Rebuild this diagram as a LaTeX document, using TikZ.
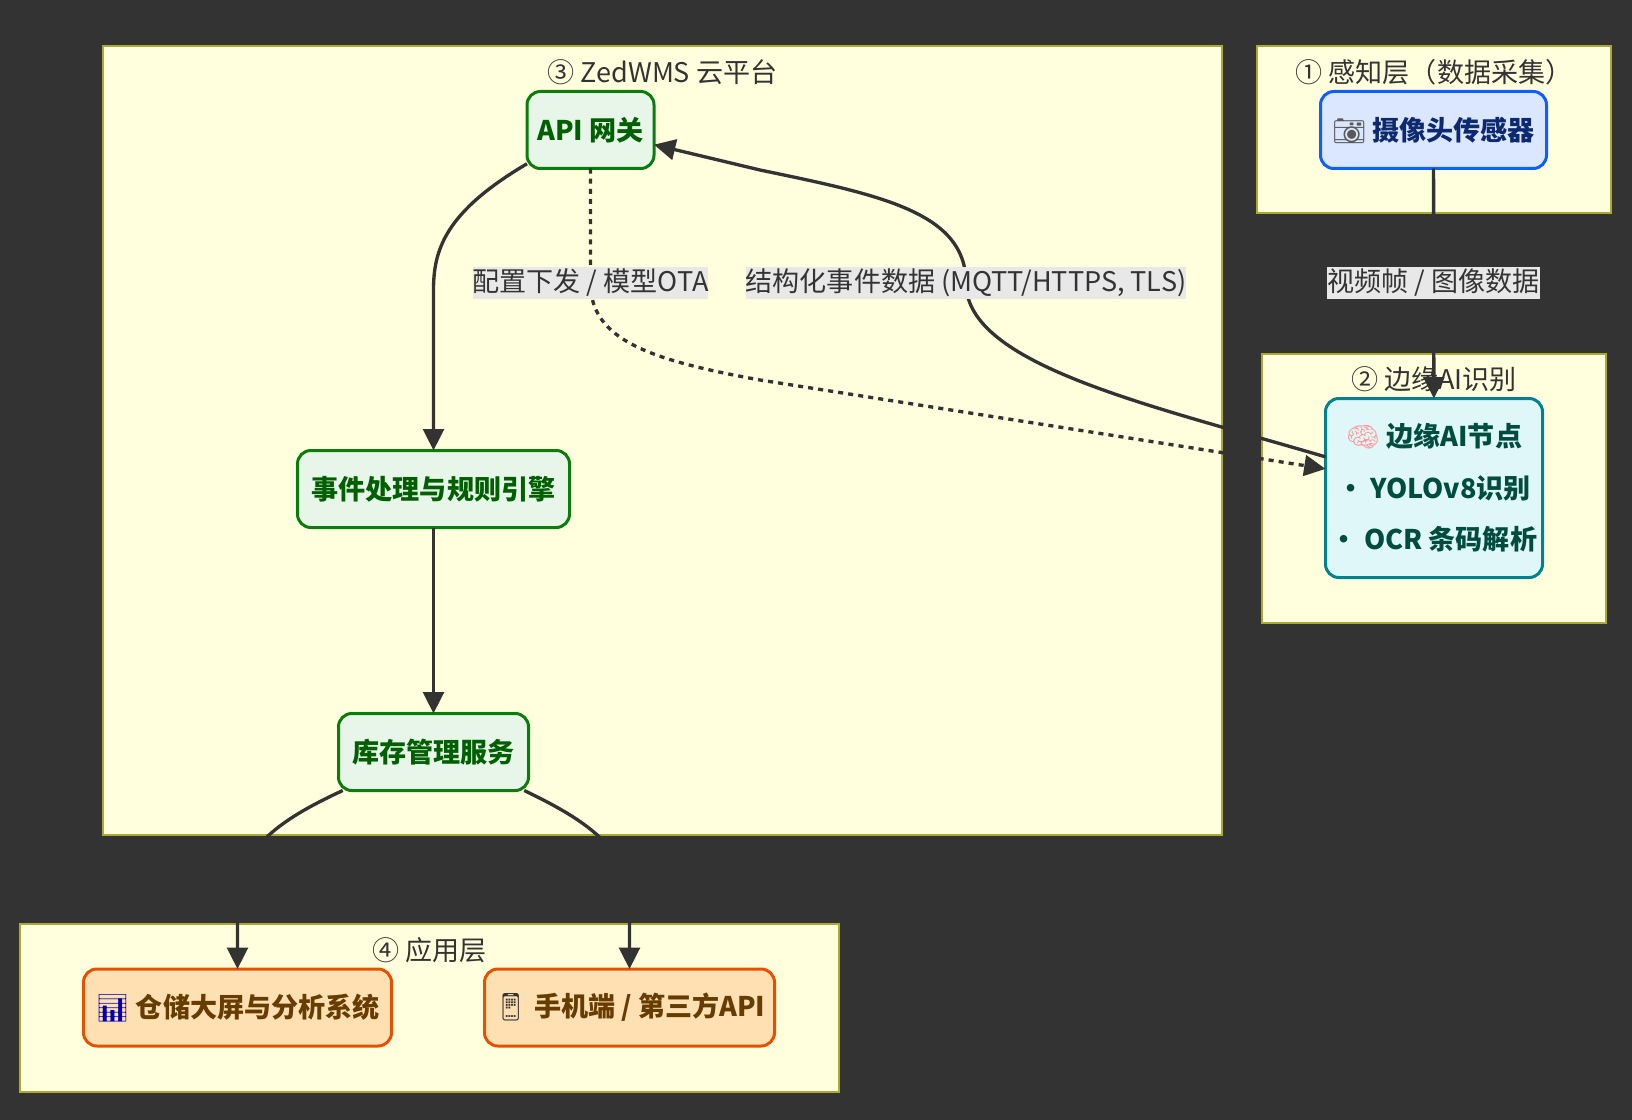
\documentclass[tikz,border=0pt]{standalone}
\usepackage{fontspec}
\usepackage{xcolor}
\setmainfont{Noto Sans CJK SC}
\newfontfamily\emojifont{Noto Emoji}
\usepackage{tikz}
\usetikzlibrary{arrows.meta, positioning}
\definecolor{bgdark}{HTML}{333333}
\definecolor{framefill}{HTML}{FFFFDE}
\definecolor{frameline}{HTML}{AAAA33}
\definecolor{inkdark}{HTML}{333333}
\definecolor{labelfill}{HTML}{E8E8E8}
\definecolor{camfill}{HTML}{DBE7FF}
\definecolor{camline}{HTML}{0F5FFF}
\definecolor{camtext}{HTML}{0D2A6E}
\definecolor{aifill}{HTML}{E0F7FA}
\definecolor{ailine}{HTML}{00838F}
\definecolor{aitext}{HTML}{004D40}
\definecolor{cloudfill}{HTML}{E8F5E9}
\definecolor{cloudline}{HTML}{0A7D0A}
\definecolor{cloudtext}{HTML}{005F00}
\definecolor{appfill}{HTML}{FFE0B2}
\definecolor{appline}{HTML}{E65100}
\definecolor{apptext}{HTML}{663C00}
\newcommand{\emo}[2]{{\emojifont\color{#1}#2}}
\begin{document}
\begin{tikzpicture}[
    x=0.75pt, y=-0.75pt,
    node distance=69.75pt,
    frame/.style={draw=frameline, fill=framefill, line width=1.3pt, outer sep=0pt},
    title/.style={text=inkdark, font=\fontsize{20.3}{24}\selectfont, inner sep=0pt},
    box/.style={rounded corners=10pt, line width=2.25pt, minimum height=57.75pt, inner sep=0pt, outer sep=0pt, align=center, font=\fontsize{20.3}{38.6}\selectfont\bfseries},
    cambox/.style={box, draw=camline, fill=camfill, text=camtext},
    aibox/.style={box, draw=ailine, fill=aifill, text=aitext},
    cloudbox/.style={box, draw=cloudline, fill=cloudfill, text=cloudtext},
    appbox/.style={box, draw=appline, fill=appfill, text=apptext},
    lbl/.style={fill=labelfill, text=inkdark, minimum height=24pt, inner sep=0pt, font=\fontsize{20.3}{24}\selectfont},
    line/.style={-{Triangle[length=16pt,width=15.5pt]}, inkdark, line width=2.5pt},
    dashline/.style={line, dash pattern=on 3.8pt off 3.8pt}
]
\useasboundingbox (0,0) rectangle (1632,1120);
\fill[bgdark] (0,0) rectangle (1632,1120);
\node[frame, minimum width=839.25pt, minimum height=591.75pt] (cloudframe) at (662.5,440.5) {};
\node[frame, minimum width=265.5pt, minimum height=125.25pt] (senseframe) at (1434,129.5) {};
\node[frame, minimum width=258pt, minimum height=201.75pt] (edgeframe) at (1434,488.5) {};
\node[frame, minimum width=614.25pt, minimum height=126pt] (appframe) at (429.5,1008) {};
\node[title] (cloudtitle) at (662.5,72) {③ ZedWMS 云平台};
\node[title] (sensetitle) at (1434,72) {① 感知层（数据采集）};
\node[title] (edgetitle) at (1434,379) {② 边缘AI识别};
\node[title] (apptitle) at (429.5,950) {④ 应用层};
\node[cambox, minimum width=169.5pt] (camera) at (1433.5,130) {\emo{black!65}{📷} 摄像头传感器};
\node[aibox, minimum width=162.75pt, minimum height=134.25pt] (edgeai) at (1434,488) {\emo{pink!80!red}{🧠} 边缘AI节点\\• YOLOv8识别\\• OCR 条码解析};
\node[cloudbox, minimum width=95.25pt] (gateway) at (590.5,130) {API 网关};
\node[cloudbox, minimum width=204pt] (events) at (433.5,489) {事件处理与规则引擎};
\node[cloudbox, minimum width=142.5pt, below=139.5pt of events] (stock) {库存管理服务};
\node[appbox, minimum width=231pt] (dash) at (237.5,1007.5) {\emo{blue!70!black}{📊} 仓储大屏与分析系统};
\node[appbox, minimum width=217.5pt, right=of dash] (mobile) {\emo{black!80}{📱} 手机端 / 第三方API};
\draw[line] (camera) -- (edgeai);
\draw[line] (edgeai.164.3) .. controls (1150,405) and (966,365) .. (966,283) .. controls (966,212) and (880,195) .. (760,170) -- (gateway.-13.6);
\draw[dashline] (gateway.south) -- (590.5,283) .. controls (590.5,340) and (650,360) .. (760,380) -- (edgeai.170.7);
\draw[line] (gateway.208) .. controls (445,212) and (433.5,250) .. (433.5,290) -- (events.north);
\draw[line] (events) -- (stock);
\draw[line] (stock.203.4) .. controls (290,815) and (237.5,845) .. (237.5,900) -- (dash.north);
\draw[line] (stock.-23) .. controls (575,815) and (629.5,845) .. (629.5,900) -- (mobile.north);
\node[lbl] (framelabel) at (1433.5,283) {视频帧 / 图像数据};
\node[lbl] (otalabel) at (590.5,283) {配置下发 / 模型OTA};
\node[lbl] (eventlabel) at (966,283) {结构化事件数据 (MQTT/HTTPS, TLS)};
\end{tikzpicture}
\end{document}
